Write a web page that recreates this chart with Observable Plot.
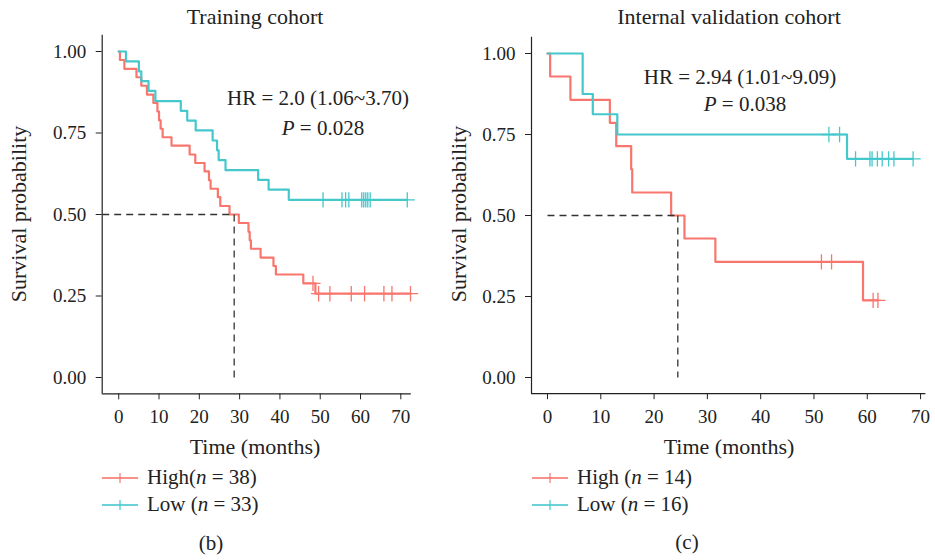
<!DOCTYPE html>
<html><head><meta charset="utf-8">
<script src="https://cdn.jsdelivr.net/npm/d3@7"></script>
<script src="https://cdn.jsdelivr.net/npm/@observablehq/plot@0.6"></script>
<style>
body{margin:0;background:#fff;}
#root{position:relative;width:935px;height:560px;font-family:"Liberation Serif","DejaVu Serif",serif;color:#222;background:#fff;overflow:hidden;}
.abs{position:absolute;white-space:nowrap;transform:translate(-50%,-50%);line-height:1;}
.lg{position:absolute;white-space:nowrap;display:flex;align-items:center;font-size:21px;line-height:1;}
.lg svg{margin-right:9px;}
.plotbox{position:absolute;top:30px;}
</style></head><body><div id="root"></div>
<script>
// ---------- DATA ----------
const groups = ["High", "Low"];
const colors = ["#F8766D", "#45C8CC"];
const xTicks = [0, 10, 20, 30, 40, 50, 60, 70];
const yTicks = [0, 0.25, 0.5, 0.75, 1];

// Training cohort
const trainHighT = [0, 0.3, 1.4, 4.4, 5.6, 7.0, 8.6, 9.6, 10.0, 10.4, 10.9, 13.1, 17.6, 19.0, 21.3, 22.4, 22.8, 24.6, 25.2, 27.5, 29.8, 32.2, 32.5, 32.8, 35.2, 38.4, 39.0, 45.8, 48.8, 72.4];
const trainHighS = [1, 0.974, 0.947, 0.921, 0.895, 0.868, 0.842, 0.816, 0.789, 0.763, 0.737, 0.711, 0.684, 0.658, 0.632, 0.605, 0.579, 0.553, 0.526, 0.500, 0.474, 0.447, 0.421, 0.395, 0.368, 0.342, 0.316, 0.289, 0.257, 0.257];
const trainHighCensT = [48.2, 49.6, 52.4, 57.7, 61.0, 65.8, 67.8, 72.4];
const trainHighCensS = [0.289, 0.257, 0.257, 0.257, 0.257, 0.257, 0.257, 0.257];
const trainLowT = [0, 1.8, 5.0, 5.6, 7.4, 9.1, 15.4, 17.0, 19.1, 23.3, 24.4, 24.8, 26.5, 34.6, 37.2, 42.2, 71.6];
const trainLowS = [1, 0.970, 0.939, 0.909, 0.879, 0.848, 0.818, 0.788, 0.758, 0.727, 0.697, 0.667, 0.636, 0.606, 0.576, 0.545, 0.545];
const trainLowCensT = [50.7, 55.4, 56.3, 57.1, 60.3, 60.8, 61.3, 61.8, 62.4, 71.6];
const trainLowCensS = [0.545, 0.545, 0.545, 0.545, 0.545, 0.545, 0.545, 0.545, 0.545, 0.545];

// Internal validation cohort
const valHighT = [0, 0.5, 4.3, 11.7, 12.9, 15.7, 15.9, 23.2, 25.7, 31.5, 59.2, 62.0];
const valHighS = [1, 0.929, 0.857, 0.786, 0.714, 0.643, 0.571, 0.500, 0.429, 0.357, 0.238, 0.238];
const valHighCensT = [51.4, 53.3, 61.1, 62.0];
const valHighCensS = [0.357, 0.357, 0.238, 0.238];
const valLowT = [0, 6.6, 8.5, 13.1, 56.2, 68.6];
const valLowS = [1, 0.875, 0.8125, 0.75, 0.675, 0.675];
const valLowCensT = [52.8, 54.8, 57.8, 60.5, 60.9, 61.9, 62.8, 64.0, 65.0, 68.6];
const valLowCensS = [0.75, 0.75, 0.675, 0.675, 0.675, 0.675, 0.675, 0.675, 0.675, 0.675];

// ---------- helpers ----------
const rowsOf = (g, T, S) => T.map((t, i) => ({group: g, t, s: S[i]}));
function medianOf(T, S) {
  for (let i = 0; i < S.length; i++) {
    if (S[i] <= 0.5 + 1e-9) {
      if (Math.abs(S[i] - 0.5) < 1e-6 && i + 1 < T.length) return (T[i] + T[i + 1]) / 2;
      return T[i];
    }
  }
  return null;
}

const root = document.getElementById("root");
function addText(html, x, y, size, extra) {
  const d = document.createElement("div");
  d.className = "abs";
  d.style.left = x + "px"; d.style.top = y + "px"; d.style.fontSize = size + "px";
  if (extra) d.style.transform = extra;
  d.innerHTML = html;
  root.appendChild(d);
}
function legendSwatch(color) {
  return `<svg width="36" height="16"><line x1="0" y1="8" x2="36" y2="8" stroke="${color}" stroke-width="2" opacity="0.8"/><line x1="18" y1="3" x2="18" y2="13" stroke="${color}" stroke-width="1.5" opacity="0.8"/></svg>`;
}
function addLegend(html, x, y, color) {
  const d = document.createElement("div");
  d.className = "lg";
  d.style.left = x + "px"; d.style.top = (y - 10) + "px";
  d.innerHTML = legendSwatch(color) + "<span>" + html + "</span>";
  root.appendChild(d);
}

function panel(cfg) {
  const lines = [...rowsOf("High", cfg.hT, cfg.hS), ...rowsOf("Low", cfg.lT, cfg.lS)];
  const cens = [...rowsOf("High", cfg.hCT, cfg.hCS), ...rowsOf("Low", cfg.lCT, cfg.lCS)];
  const med = medianOf(cfg.hT, cfg.hS);
  const plot = Plot.plot({
    width: cfg.width, height: 400,
    marginLeft: cfg.ml, marginRight: cfg.mr, marginTop: cfg.mt, marginBottom: cfg.mb,
    style: {fontFamily: "Liberation Serif, serif", color: "#222", background: "transparent", overflow: "visible"},
    x: {domain: cfg.xDomain},
    y: {domain: [-0.05, 1.05]},
    color: {domain: groups, range: colors},
    marks: [
      Plot.axisX({ticks: xTicks, tickSize: 6, tickPadding: 10, fontSize: 19, label: null, tickFormat: d => String(d)}),
      Plot.axisY({ticks: yTicks, tickSize: 6, tickPadding: 10, fontSize: 19, label: null, tickFormat: d3.format(".2f")}),
      Plot.ruleX([cfg.xDomain[0]], {stroke: "#222", strokeWidth: 1.2}),
      Plot.ruleY([-0.05], {stroke: "#222", strokeWidth: 1.2}),
      Plot.line(lines, {x: "t", y: "s", z: "group", stroke: "group", curve: "step-after", strokeWidth: 2.2}),
      Plot.dot(cens, {x: "t", y: "s", stroke: "group", symbol: "plus", r: 5, strokeWidth: 1.3}),
      Plot.link([{x1: cfg.hStart, y1: 0.5, x2: med, y2: 0.5}, {x1: med, y1: 0.5, x2: med, y2: 0}],
        {x1: "x1", y1: "y1", x2: "x2", y2: "y2", stroke: "#333", strokeWidth: 1.3, strokeDasharray: "7,5"})
    ]
  });
  const box = document.createElement("div");
  box.className = "plotbox";
  box.style.left = cfg.left + "px";
  box.appendChild(plot);
  root.appendChild(box);
}

panel({left: 0, width: 450, ml: 101.7, mr: 39.2, mt: 4.7, mb: 36.7, xDomain: [-4.1, 72.6], hStart: -4.1,
  hT: trainHighT, hS: trainHighS, hCT: trainHighCensT, hCS: trainHighCensS,
  lT: trainLowT, lS: trainLowS, lCT: trainLowCensT, lCS: trainLowCensS});
panel({left: 450, width: 485, ml: 81, mr: 9.6, mt: 6.8, mb: 36.8, xDomain: [-3.0, 71.0], hStart: 0,
  hT: valHighT, hS: valHighS, hCT: valHighCensT, hCS: valHighCensS,
  lT: valLowT, lS: valLowS, lCT: valLowCensT, lCS: valLowCensS});

// ---------- text ----------
addText("Training cohort", 255, 17, 22);
addText("Internal validation cohort", 729, 17, 22);
addText("Survival probability", 19, 214, 22, "translate(-50%,-50%) rotate(-90deg)");
addText("Survival probability", 459, 214, 22, "translate(-50%,-50%) rotate(-90deg)");
addText("Time (months)", 255, 447, 22);
addText("Time (months)", 729, 447, 22);
addText("HR = 2.0 (1.06~3.70)", 318, 98, 21);
addText("<i>P</i> = 0.028", 323, 128, 21);
addText("HR = 2.94 (1.01~9.09)", 740, 77, 21);
addText("<i>P</i> = 0.038", 745, 104, 21);
addLegend("High(<i>n</i> = 38)", 102, 477, colors[0]);
addLegend("Low (<i>n</i> = 33)", 102, 504, colors[1]);
addLegend("High (<i>n</i> = 14)", 532, 477, colors[0]);
addLegend("Low (<i>n</i> = 16)", 532, 504, colors[1]);
addText("(b)", 211, 543, 21);
addText("(c)", 687, 542, 21);
</script>
</body></html>
